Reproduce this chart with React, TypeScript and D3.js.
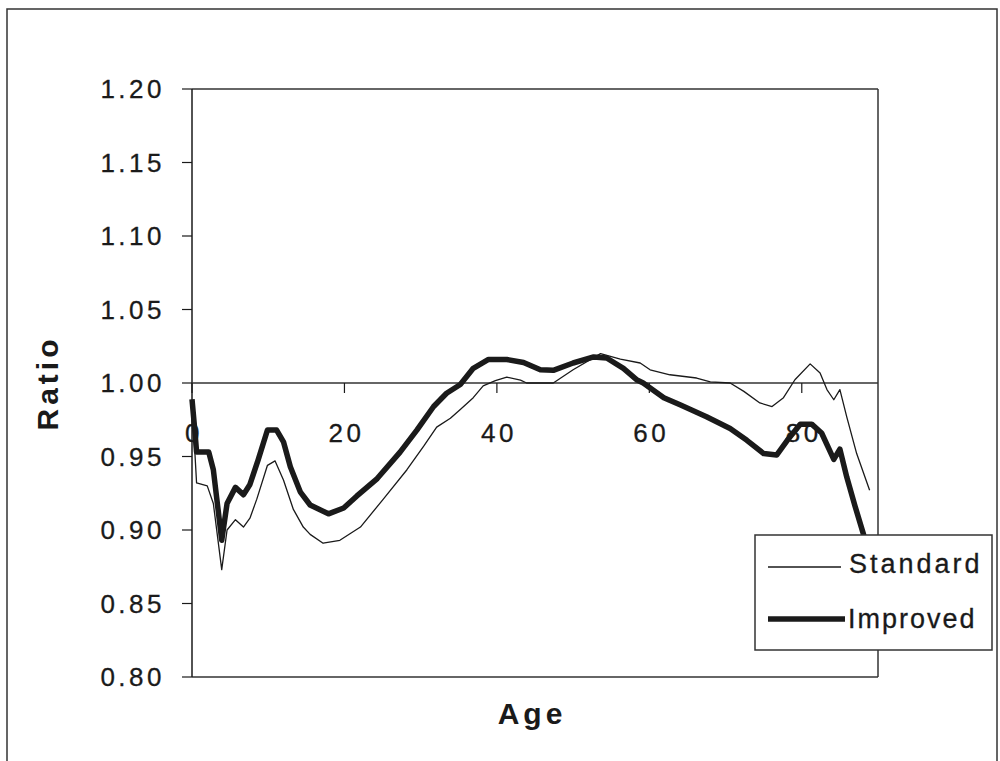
import React from "react";
import * as d3 from "d3";

const xTicks = [0, 20, 40, 60, 80];
const yTicks = [0.8, 0.85, 0.9, 0.95, 1.0, 1.05, 1.1, 1.15, 1.2];

const standardAges = [0, 0.3, 0.6, 2.0, 2.8, 3.9, 4.6, 5.7, 6.75, 7.6, 8.5, 9.9, 10.9, 12.0, 13.3, 14.6, 15.5, 17.2, 19.4, 22.1, 25.1, 28.2, 30.4, 32.1, 33.9, 35.2, 36.9, 38.2, 39.8, 41.3, 43.1, 43.9, 47.4, 50.0, 53.6, 56.2, 58.8, 60.1, 62.7, 66.2, 68.0, 70.6, 72.4, 74.5, 76.1, 77.6, 79.1, 81.1, 82.4, 83.3, 84.2, 85.0, 85.9, 87.2, 88.9];
const standardRatios = [0.978, 0.96, 0.932, 0.93, 0.918, 0.873, 0.9, 0.907, 0.902, 0.908, 0.921, 0.944, 0.947, 0.934, 0.914, 0.902, 0.897, 0.891, 0.893, 0.902, 0.921, 0.941, 0.957, 0.97, 0.976, 0.982, 0.99, 0.998, 1.0016, 1.004, 1.002, 1.0, 1.0, 1.009, 1.02, 1.0163, 1.0136, 1.009, 1.0056, 1.0034, 1.0007, 1.0, 0.9943, 0.9864, 0.984, 0.99, 1.0022, 1.013, 1.0068, 0.9955, 0.9886, 0.9955, 0.977, 0.952, 0.927];

const improvedAges = [0, 0.4, 0.6, 2.2, 2.8, 3.9, 4.6, 5.7, 6.75, 7.6, 8.7, 9.9, 11.1, 12.0, 12.9, 14.2, 15.5, 17.9, 19.9, 21.6, 24.3, 27.3, 29.5, 31.7, 33.4, 35.2, 36.9, 38.9, 41.3, 43.5, 45.7, 47.4, 50.0, 52.7, 54.4, 56.6, 58.4, 59.2, 61.9, 64.1, 67.5, 70.6, 72.8, 75.0, 76.7, 78.1, 79.8, 81.3, 82.6, 84.2, 85.0, 85.9, 87.0, 88.1, 89.5];
const improvedRatios = [0.989, 0.966, 0.953, 0.953, 0.941, 0.893, 0.918, 0.929, 0.924, 0.931, 0.948, 0.968, 0.968, 0.96, 0.943, 0.926, 0.917, 0.911, 0.915, 0.923, 0.935, 0.953, 0.968, 0.984, 0.993, 0.999, 1.01, 1.016, 1.016, 1.014, 1.009, 1.0086, 1.0136, 1.0177, 1.017, 1.01, 1.002, 1.0, 0.99, 0.985, 0.977, 0.969, 0.961, 0.952, 0.951, 0.961, 0.972, 0.972, 0.966, 0.948, 0.955, 0.936, 0.916, 0.897, 0.87];

const seriesNames = ["Standard", "Improved"];

export default function App() {
  const x = d3.scaleLinear().domain([0, 90]).range([192, 878]);
  const y = d3.scaleLinear().domain([0.8, 1.2]).range([677, 89]);
  const line = d3
    .line<[number, number]>()
    .x((d) => x(d[0]))
    .y((d) => y(d[1]));
  const std: [number, number][] = standardAges.map((a, i) => [a, standardRatios[i]]);
  const imp: [number, number][] = improvedAges.map((a, i) => [a, improvedRatios[i]]);
  const font = "'Liberation Sans', Arial, Helvetica, sans-serif";
  const ink = "#1a1a1a";
  return (
    <svg
      width={1000}
      height={761}
      style={{ position: "absolute", left: 0, top: 0, background: "#fff" }}
      fontFamily={font}
    >
      <rect x={0} y={0} width={1000} height={761} fill="#fff" />
      {/* outer frame */}
      <rect x={7} y={9} width={990} height={800} fill="none" stroke="#333" strokeWidth={1.5} />
      {/* plot frame */}
      <line x1={x(0)} x2={x(90)} y1={y(1.2)} y2={y(1.2)} stroke="#333" strokeWidth={1.5} />
      <line x1={x(90)} x2={x(90)} y1={y(1.2)} y2={y(0.8)} stroke="#333" strokeWidth={1.5} />
      <line x1={x(0)} x2={x(90)} y1={y(0.8)} y2={y(0.8)} stroke="#333" strokeWidth={1.5} />
      {/* y axis */}
      <line x1={x(0)} x2={x(0)} y1={y(1.2)} y2={y(0.8)} stroke={ink} strokeWidth={1.5} />
      {yTicks.map((t) => (
        <g key={t}>
          <line x1={x(0) - 10} x2={x(0)} y1={y(t)} y2={y(t)} stroke={ink} strokeWidth={1.2} />
          <text
            x={165}
            y={y(t)}
            dy="0.36em"
            textAnchor="end"
            fontSize={26}
            letterSpacing={3.5}
            fill={ink}
            stroke={ink}
            strokeWidth={0.3}
          >
            {t.toFixed(2)}
          </text>
        </g>
      ))}
      {/* x axis at 1.00 */}
      <line x1={x(0)} x2={x(90)} y1={y(1.0)} y2={y(1.0)} stroke="#333" strokeWidth={1.3} />
      {xTicks.map((t) => (
        <g key={t}>
          <line x1={x(t)} x2={x(t)} y1={y(1.0)} y2={y(1.0) + 10} stroke={ink} strokeWidth={1.2} />
          <text
            x={x(t) + 2}
            y={442}
            textAnchor="middle"
            fontSize={26}
            letterSpacing={3.5}
            fill={ink}
            stroke={ink}
            strokeWidth={0.3}
          >
            {t}
          </text>
        </g>
      ))}
      {/* series */}
      <path d={line(std) || ""} fill="none" stroke={ink} strokeWidth={1.3} strokeLinejoin="round" />
      <path d={line(imp) || ""} fill="none" stroke={ink} strokeWidth={5.5} strokeLinejoin="round" />
      {/* legend */}
      <rect x={755} y={535} width={237} height={115} fill="#fff" stroke="#333" strokeWidth={1.5} />
      <line x1={768} x2={841} y1={567} y2={567} stroke={ink} strokeWidth={1.3} />
      <text x={849} y={573} fontSize={27} letterSpacing={3} fill={ink} stroke={ink} strokeWidth={0.3}>
        {seriesNames[0]}
      </text>
      <line x1={768} x2={845} y1={619} y2={619} stroke={ink} strokeWidth={5.5} />
      <text x={848} y={628} fontSize={27} letterSpacing={2} fill={ink} stroke={ink} strokeWidth={0.3}>
        {seriesNames[1]}
      </text>
      {/* axis titles */}
      <text
        transform={`translate(58,383) rotate(-90)`}
        textAnchor="middle"
        fontSize={30}
        fontWeight="bold"
        letterSpacing={4}
        fill={ink}
      >
        Ratio
      </text>
      <text x={532} y={724} textAnchor="middle" fontSize={30} fontWeight="bold" letterSpacing={4} fill={ink}>
        Age
      </text>
    </svg>
  );
}
